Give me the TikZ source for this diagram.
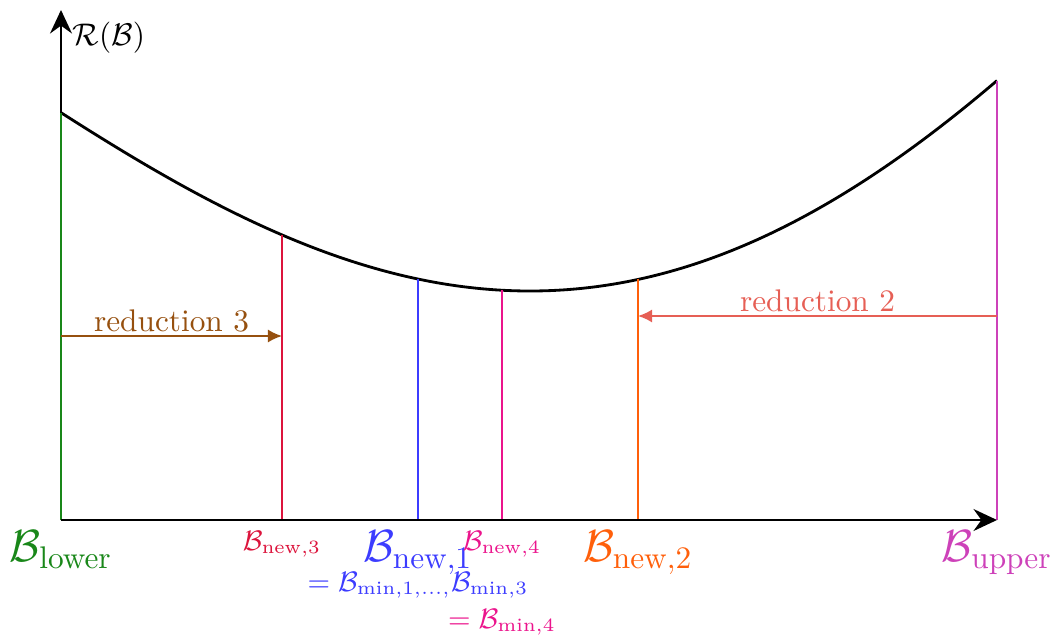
\documentclass[tikz,border=0pt]{standalone}
\usepackage{amsmath}
\usetikzlibrary{arrows.meta}
\definecolor{cLower}{RGB}{25,135,25}
\definecolor{cNewThree}{RGB}{220,20,60}
\definecolor{cNewOne}{RGB}{60,60,255}
\definecolor{cNewFour}{RGB}{235,20,140}
\definecolor{cNewTwo}{RGB}{255,95,10}
\definecolor{cUpper}{RGB}{205,65,185}
\definecolor{cRedTwo}{RGB}{230,95,85}
\definecolor{cRedThree}{RGB}{150,80,15}
\tikzset{
  axis/.style={thick,-{Stealth[length=7.5pt,width=7pt,inset=2.5pt]}},
  bound/.style={semithick},
  riskcurve/.style={line width=0.9pt},
  redarrow/.style={semithick,-{Latex[length=4.5pt,width=4.2pt]}},
  redlabel/.style={above,inner sep=1pt},
  blabel/.style={below},
  smalllabel/.style={font=\small},
  declare function={rcu(\t)=(\t-530)/470; rcurve(\t)=291-216*rcu(\t)^2-17*rcu(\t)^3+20*rcu(\t)^4;},
}
\begin{document}
\begin{tikzpicture}[x=0.3195pt,y=-0.3195pt]
\useasboundingbox (0,0) rectangle (1058,639);
% axis points
\coordinate (O) at (61,520);
\coordinate (Ytip) at (61,10);
\coordinate (Xtip) at (997,520);
\coordinate (a3) at (282,520);
\coordinate (a1) at (418,520);
\coordinate (a4) at (502,520);
\coordinate (a2) at (638,520);
% curve points
\coordinate (c0) at (61,{rcurve(61)});
\coordinate (c3) at (282,{rcurve(282)});
\coordinate (c1) at (418,{rcurve(418)});
\coordinate (c4) at (502,{rcurve(502)});
\coordinate (c2) at (638,{rcurve(638)});
\coordinate (cU) at (997,{rcurve(997)});
% y axis
\draw[axis] (O) -- (Ytip) node[below right] (ylab) {$\mathcal{R}(\mathcal{B})$};
% curve
\draw[riskcurve] plot[domain=61:997,samples=150] (\x,{rcurve(\x)});
% bounds
\draw[bound,cLower] (O) -- (c0);
\draw[bound,cNewThree] (a3) -- (c3);
\draw[bound,cNewOne] (a1) -- (c1);
\draw[bound,cNewFour] (a4) -- (c4);
\draw[bound,cNewTwo] (a2) -- (c2);
\draw[bound,cUpper] (Xtip) -- (cU);
% x axis
\draw[axis] (O) -- (Xtip);
% reductions
\coordinate (r3s) at (61,336);
\coordinate (r3e) at (282,336);
\draw[redarrow,cRedThree] (r3s) -- node[redlabel] (red3) {reduction 3} (r3e);
\coordinate (r2s) at (997,316);
\coordinate (r2e) at (638,316);
\draw[redarrow,cRedTwo] (r2s) -- node[redlabel] (red2) {reduction 2} (r2e);
% labels
\node[blabel,text=cLower] (lLower) at (O) {\Large$\mathcal{B}_{\text{lower}}$};
\node[blabel,smalllabel,text=cNewThree] (lNew3) at (a3) {$\mathcal{B}_{\text{new},3}$};
\node[blabel,text=cNewOne] (lNew1) at (a1) {\Large$\mathcal{B}_{\text{new},1}$};
\node[anchor=base,smalllabel,text=cNewOne] (lMin1) at (418,591) {$=\mathcal{B}_{\text{min},1,\ldots,}\mathcal{B}_{\text{min},3}$};
\node[blabel,smalllabel,text=cNewFour] (lNew4) at (a4) {$\mathcal{B}_{\text{new},4}$};
\node[anchor=base,smalllabel,text=cNewFour] (lMin4) at (502,628) {$=\mathcal{B}_{\text{min},4}$};
\node[blabel,text=cNewTwo] (lNew2) at (a2) {\Large$\mathcal{B}_{\text{new},2}$};
\node[blabel,text=cUpper] (lUpper) at (Xtip) {\Large$\mathcal{B}_{\text{upper}}$};
\end{tikzpicture}
\end{document}
